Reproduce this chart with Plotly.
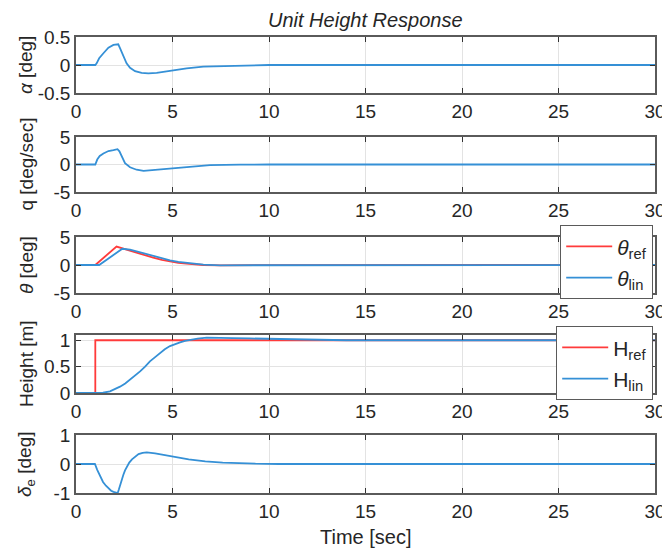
import plotly.graph_objects as go

# ---- data -------------------------------------------------------------
t_alpha = [0, 1.0, 1.07, 1.2, 1.42, 1.68, 1.94, 2.1, 2.19, 2.28, 2.45, 2.62,
           2.8, 3.06, 3.4, 3.75, 4.18, 4.87, 5.73, 6.6, 8.3, 10, 30]
alpha = [0, 0, 0.03, 0.12, 0.21, 0.31, 0.36, 0.37, 0.37, 0.30, 0.15, 0.03,
         -0.05, -0.11, -0.14, -0.15, -0.14, -0.10, -0.06, -0.03, -0.01, 0, 0]

t_q = [0, 1.0, 1.1, 1.23, 1.42, 1.68, 1.94, 2.15, 2.25, 2.37, 2.54, 2.8, 3.14,
       3.5, 4.18, 4.87, 5.73, 6.94, 8.5, 10, 30]
q = [0, 0, 0.9, 1.55, 2.0, 2.45, 2.6, 2.78, 2.4, 1.43, 0.24, -0.5, -0.95,
     -1.15, -0.95, -0.65, -0.42, -0.12, -0.04, 0, 0]

t_theta_ref = [0, 1.0, 2.1, 2.6, 3.14, 3.6, 4.0, 4.45, 4.87, 5.3, 5.73, 6.2,
               6.6, 7.5, 8.5, 10, 30]
theta_ref = [0, 0, 3.3, 2.75, 2.2, 1.7, 1.3, 0.92, 0.6, 0.4, 0.25, 0.1, 0.0,
             -0.05, -0.04, -0.01, 0]

t_theta_lin = [0, 1.2, 2.4, 2.8, 3.14, 3.6, 4.0, 4.45, 4.87, 5.3, 5.73, 6.2,
               6.6, 7.45, 8.5, 10, 30]
theta_lin = [0, 0, 2.9, 2.75, 2.45, 2.0, 1.6, 1.2, 0.82, 0.55, 0.35, 0.18,
             0.06, -0.05, -0.05, -0.02, 0]

t_h_ref = [0, 1.0, 1.0, 30]
h_ref = [0, 0, 1, 1]

t_h_lin = [0, 1.0, 1.4, 1.76, 2.0, 2.28, 2.55, 2.8, 3.05, 3.32, 3.58, 3.83,
           4.1, 4.35, 4.6, 4.87, 5.13, 5.39, 5.65, 5.9, 6.3, 6.77, 7.4, 8.14,
           9.0, 9.88, 11, 12.5, 14, 30]
h_lin = [0, 0, 0.005, 0.03, 0.07, 0.12, 0.18, 0.25, 0.33, 0.41, 0.5, 0.6,
         0.68, 0.76, 0.83, 0.89, 0.93, 0.96, 0.99, 1.01, 1.03, 1.05, 1.05,
         1.04, 1.035, 1.03, 1.02, 1.01, 1.0, 1.0]

t_de = [0, 0.98, 1.1, 1.24, 1.4, 1.55, 1.68, 1.82, 1.94, 2.1, 2.16, 2.22,
        2.28, 2.37, 2.45, 2.54, 2.63, 2.76, 2.9, 3.06, 3.24, 3.45, 3.67, 4.1,
        4.5, 4.97, 5.4, 5.84, 6.7, 7.6, 9.3, 10.5, 30]
delta_e = [0, 0, -0.2, -0.38, -0.62, -0.75, -0.85, -0.92, -0.96, -1.0, -1.0,
           -0.88, -0.73, -0.55, -0.38, -0.22, -0.09, 0.05, 0.16, 0.26, 0.34,
           0.38, 0.40, 0.37, 0.32, 0.26, 0.2, 0.16, 0.09, 0.05, 0.01, 0, 0]

x_ticks = [0, 5, 10, 15, 20, 25, 30]
y_labels = ["<i>α</i> [deg]", "q [deg/sec]", "<i>θ</i> [deg]", "Height [m]",
            "<i>δ</i><sub>e</sub> [deg]"]
y_ranges = [[-0.5, 0.5], [-5, 5], [-5, 5], [0, 1.1], [-1, 1]]
y_ticks = [[-0.5, 0, 0.5], [-5, 0, 5], [-5, 0, 5], [0, 0.5, 1], [-1, 0, 1]]
y_ticktext = [["-0.5", "0", "0.5"], ["-5", "0", "5"], ["-5", "0", "5"],
              ["0", "0.5", "1"], ["-1", "0", "1"]]

# ---- styling ----------------------------------------------------------
BLUE = "#3590d6"
RED = "#ff3b3b"
FONT = "Liberation Sans, Arial, sans-serif"
TXT = "#262626"
W, H = 662, 549
L, R, T, B = 76, 7, 37, 56
plot_h = H - T - B

# panel extents in pixels (top, bottom)
panels_px = [(37, 93), (137, 192), (237, 293), (335, 393), (435, 493)]


def to_paper(py):
    return (H - B - py) / plot_h


fig = go.Figure()

series = [
    [(t_alpha, alpha, BLUE, None, None)],
    [(t_q, q, BLUE, None, None)],
    [(t_theta_ref, theta_ref, RED, "<i>θ</i><sub>ref</sub>", "legend"),
     (t_theta_lin, theta_lin, BLUE, "<i>θ</i><sub>lin</sub>", "legend")],
    [(t_h_ref, h_ref, RED, "H<sub>ref</sub>", "legend2"),
     (t_h_lin, h_lin, BLUE, "H<sub>lin</sub>", "legend2")],
    [(t_de, delta_e, BLUE, None, None)],
]

for i, group in enumerate(series):
    sfx = "" if i == 0 else str(i + 1)
    for j, (tx, ty, col, name, leg) in enumerate(group):
        fig.add_trace(go.Scatter(
            x=tx, y=ty, mode="lines",
            line=dict(color=col, width=1.8),
            name=name or "",
            showlegend=name is not None,
            legend=leg or "legend",
            legendgroup=f"g{i}{j}",
            xaxis="x" + sfx, yaxis="y" + sfx,
        ))

axis_common = dict(
    showline=True, linecolor="#5a5a5a", linewidth=1.5, mirror="ticks",
    ticks="inside", ticklen=5, tickcolor="#333333", tickwidth=1.2,
    showgrid=True, gridcolor="#e3e3e3", gridwidth=1, zeroline=False,
    tickfont=dict(family=FONT, size=19, color=TXT),
    automargin=False,
)

layout = dict(
    width=W, height=H,
    margin=dict(l=L, r=R, t=T, b=B, autoexpand=False),
    paper_bgcolor="white", plot_bgcolor="white",
    showlegend=True,
    font=dict(family=FONT, color=TXT),
    annotations=[],
)

for i in range(5):
    sfx = "" if i == 0 else str(i + 1)
    top, bot = panels_px[i]
    dom = [to_paper(bot), to_paper(top)]
    xa = dict(axis_common, domain=[0, 1], range=[0, 30], tickvals=x_ticks,
              anchor="y" + sfx, ticklabeloverflow="allow")
    ya = dict(axis_common, domain=dom, range=y_ranges[i], tickvals=y_ticks[i],
              ticktext=y_ticktext[i], anchor="x" + sfx,
              ticklabeloverflow="allow")
    layout["xaxis" + sfx] = xa
    layout["yaxis" + sfx] = ya
    layout["annotations"].append(dict(
        text=y_labels[i], textangle=-90, showarrow=False,
        xref="paper", yref="paper", x=(26 - L) / (W - L - R),
        y=(dom[0] + dom[1]) / 2, xanchor="center", yanchor="middle",
        font=dict(family=FONT, size=19, color=TXT),
    ))

layout["annotations"].append(dict(
    text="<i>Unit Height Response</i>", showarrow=False,
    xref="paper", yref="paper", x=0.5, y=to_paper(20),
    xanchor="center", yanchor="middle",
    font=dict(family=FONT, size=20, color=TXT),
))
layout["annotations"].append(dict(
    text="Time [sec]", showarrow=False,
    xref="paper", yref="paper", x=0.5, y=to_paper(537),
    xanchor="center", yanchor="middle",
    font=dict(family=FONT, size=20, color=TXT),
))

legend_style = dict(
    bgcolor="white", bordercolor="#5a5a5a", borderwidth=1.2,
    font=dict(family=FONT, size=21, color=TXT),
    xanchor="right", yanchor="top", traceorder="grouped", tracegroupgap=1,
    itemwidth=46,
)
layout["legend"] = dict(legend_style, x=(653 - L) / (W - L - R), y=to_paper(225))
layout["legend2"] = dict(legend_style, x=(653 - L) / (W - L - R), y=to_paper(326))

fig.update_layout(**layout)
fig.write_html("out.html")
